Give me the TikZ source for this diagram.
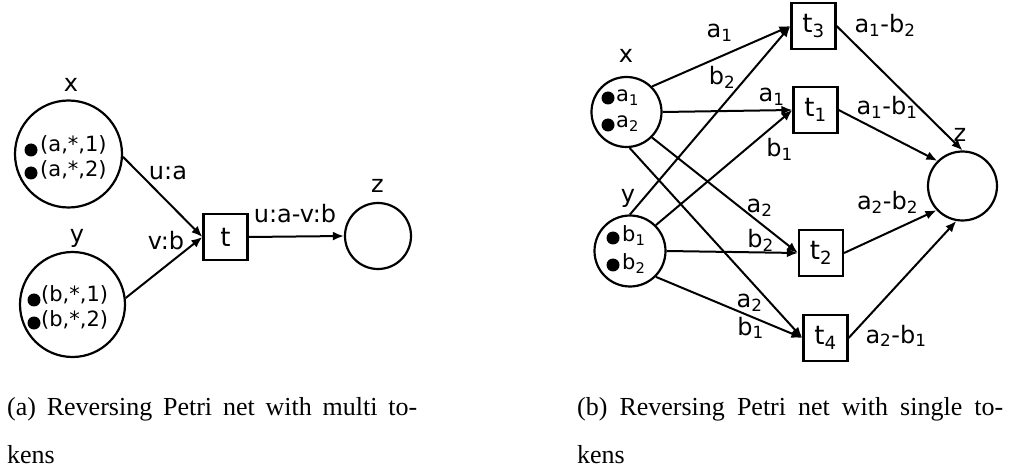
\documentclass[tikz,border=0pt]{standalone}
\usepackage{fontspec}
\setmainfont{Liberation Serif}
\newfontfamily\diafont{DejaVu Sans}
\usetikzlibrary{arrows.meta}

\tikzset{
  place/.style={draw, circle, line width=2.2pt, inner sep=0pt},
  trans/.style={draw, rectangle, line width=2.2pt, minimum width=44pt, minimum height=46pt,
    inner sep=0pt, font=\diafont\fontsize{26}{30}\selectfont},
  flow/.style={line width=2pt, -{Latex[length=11pt,width=9pt]}},
  lbl/.style={font=\diafont\fontsize{24}{28}\selectfont, inner sep=0pt, anchor=base},
  plbl/.style={font=\diafont\fontsize{24}{28}\selectfont, inner sep=0pt, anchor=base},
  tok/.style={font=\diafont\fontsize{21}{25}\selectfont, inner sep=0pt, anchor=base west},
  captxt/.style={font=\fontsize{26}{30}\selectfont, inner sep=0pt, anchor=base west},
}

\begin{document}
\begin{tikzpicture}[x=1pt, y=-1pt]
  \useasboundingbox (0,0) rectangle (1010,473);
  % (a) multi tokens
  \node[place, minimum size=107pt] (px) at (68.5,154) {};
  \node[place, minimum size=105pt] (py) at (72.5,304.5) {};
  \node[place, minimum size=66pt] (pz) at (378,236) {};
  \node[trans] (t) at (225.5,237) {t};
  \node[plbl] (lx) at (71,91.7) {x};
  \node[plbl] (ly) at (77,243) {y};
  \node[plbl] (lz) at (377.5,193) {z};
  \fill (31,150) circle[radius=6.5];
  \fill (31,173) circle[radius=6.5];
  \node[tok] (kx1) at (40,151.5) {(a,*,1)};
  \node[tok] (kx2) at (40,176.5) {(a,*,2)};
  \fill (34,300) circle[radius=6.5];
  \fill (34,323) circle[radius=6.5];
  \node[tok] (ky1) at (41,301.7) {(b,*,1)};
  \node[tok] (ky2) at (41,326.7) {(b,*,2)};
  \draw[flow] (px.-3) -- (t.west);
  \draw[flow] (py.7) -- (t.west);
  \draw[flow] (t.east) -- (pz.west);
  \node[lbl] (lua) at (168,180) {u:a};
  \node[lbl] (lvb) at (166,250) {v:b};
  \node[lbl] (luv) at (295,223) {u:a-v:b};
  % (b) single tokens
  \node[place, minimum size=70pt] (qx) at (626.5,112) {};
  \node[place, minimum size=71pt] (qy) at (630,251) {};
  \node[place, minimum size=69pt] (qz) at (962.5,186) {};
  \node[trans] (t3) at (813.5,26) {t\textsubscript{3}};
  \node[trans] (t1) at (815.5,110) {t\textsubscript{1}};
  \node[trans] (t2) at (821,253) {t\textsubscript{2}};
  \node[trans] (t4) at (825.5,338) {t\textsubscript{4}};
  \node[plbl] (mx) at (626,63) {x};
  \node[plbl] (my) at (628,203) {y};
  \node[plbl] (mz) at (960,141.7) {z};
  \fill (608,98) circle[radius=6.5];
  \fill (608,125) circle[radius=6.5];
  \node[tok] (ka1) at (616,101.7) {a\textsubscript{1}};
  \node[tok] (ka2) at (616,128) {a\textsubscript{2}};
  \fill (613,238) circle[radius=6.5];
  \fill (613,265) circle[radius=6.5];
  \node[tok] (kb1) at (622,242) {b\textsubscript{1}};
  \node[tok] (kb2) at (622,270) {b\textsubscript{2}};
  \draw[flow] (qx.45) -- (t3.west);
  \draw[flow] (qy.north) -- (t3.west);
  \draw[flow] (qx.east) -- (t1.west);
  \draw[flow] (qy.45) -- (t1.west);
  \draw[flow] (qx.-45) -- (t2.west);
  \draw[flow] (qy.east) -- (t2.west);
  \draw[flow] (qx.-85) -- (t4.west);
  \draw[flow] (qy.-45) -- (t4.west);
  \draw[flow] (t3.east) -- (qz.north);
  \draw[flow] (t1.east) -- (qz.135);
  \draw[flow] (t2.east) -- (qz.-137);
  \draw[flow] (t4.east) -- (qz.-100);
  \node[lbl] (l31) at (719.5,38) {a\textsubscript{1}};
  \node[lbl] (l32) at (722,85) {b\textsubscript{2}};
  \node[lbl] (l11) at (771.5,101.7) {a\textsubscript{1}};
  \node[lbl] (l12) at (779.5,156.7) {b\textsubscript{1}};
  \node[lbl] (l21) at (759.5,213) {a\textsubscript{2}};
  \node[lbl] (l22) at (760.5,248) {b\textsubscript{2}};
  \node[lbl] (l41) at (749.5,308) {a\textsubscript{2}};
  \node[lbl] (l42) at (750.5,335) {b\textsubscript{1}};
  \node[lbl] (o3) at (885,33) {a\textsubscript{1}-b\textsubscript{2}};
  \node[lbl] (o1) at (887,115) {a\textsubscript{1}-b\textsubscript{1}};
  \node[lbl] (o2) at (887.5,210) {a\textsubscript{2}-b\textsubscript{2}};
  \node[lbl] (o4) at (896,343) {a\textsubscript{2}-b\textsubscript{1}};
  % captions
  \node[captxt] (ca1) at (7,415) {\makebox[410pt][s]{(a) Reversing Petri net with multi to-}};
  \node[captxt] (ca2) at (7,463) {kens};
  \node[captxt] (cb1) at (577,415) {\makebox[426pt][s]{(b) Reversing Petri net with single to-}};
  \node[captxt] (cb2) at (577,463) {kens};
\end{tikzpicture}
\end{document}
